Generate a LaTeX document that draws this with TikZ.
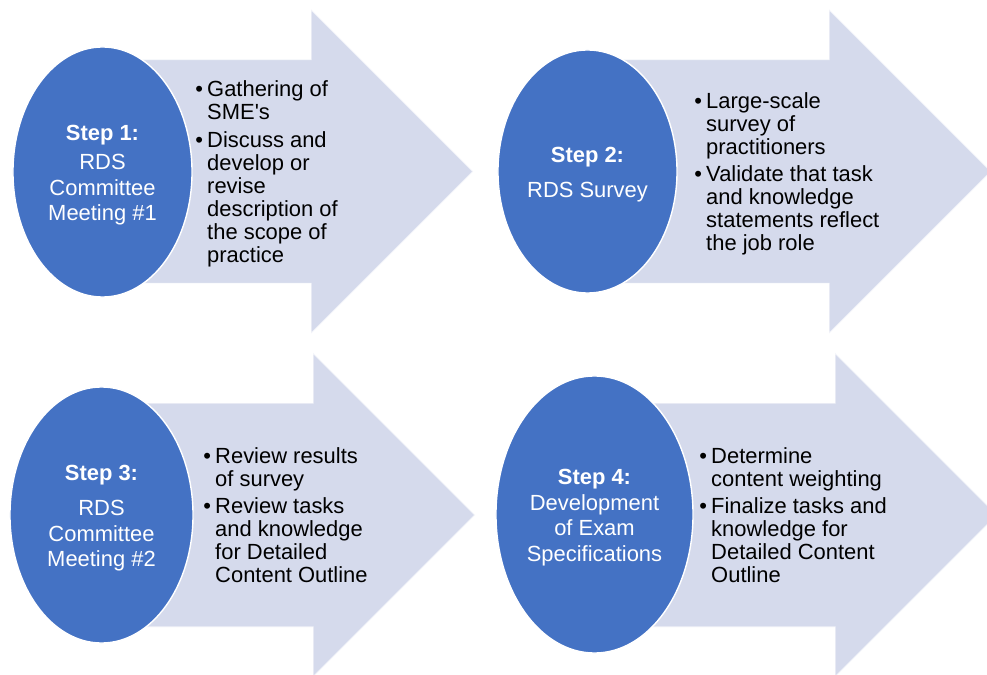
\documentclass[tikz,border=0pt]{standalone}
\usepackage{fontspec}
\setmainfont{Liberation Sans}
\usepackage{tikz}
\usetikzlibrary{shapes.geometric}
\definecolor{stageblue}{HTML}{4472C4}
\definecolor{stagefill}{HTML}{D5DAEC}
% bullet column + text column, lines after the first hang under the text
\newenvironment{bitems}{\begin{tabular}{@{}p{8.5pt}@{}l@{}}}{\end{tabular}}
\newcommand{\bul}{\textbullet}
\tikzset{
    stagearrow/.style={
        fill=stagefill, draw=white, draw opacity=0.7, line width=0.8pt
    },
    stageoval/.style={
        shape=ellipse, fill=stageblue, draw=white, line width=1pt,
        text=white, align=center, inner sep=0pt,
        font=\fontsize{15.6}{18.2}\selectfont
    },
    tasklist/.style={
        anchor=west, inner sep=0pt, yshift=-2.5pt,
        font=\fontsize{15.6}{16.4}\selectfont
    },
}

\begin{document}
\begin{tikzpicture}[x=0.025cm, y=-0.025cm]
    \useasboundingbox (0,0) rectangle (987,675);
    \clip (0,0) rectangle (987,675);
    % the four block arrows: body start / head start / middle line
    \foreach \bx/\hx/\cy in {102/311/171.5, 587/829/171.5, 101/313/515, 594/835/515} {
        \draw[stagearrow] (\bx,{\cy-112}) -- (\hx,{\cy-112}) -- (\hx,{\cy-162})
            -- ({\hx+162},\cy) -- (\hx,{\cy+162}) -- (\hx,{\cy+112})
            -- (\bx,{\cy+112}) -- cycle;
    }

    % steps
    \node[stageoval, minimum width=4.475cm, minimum height=6.25cm] (s1) at (102.5,172)
        {\rule{0pt}{15.5pt}\textbf{Step 1:}\\[2.5pt] RDS\\ Committee\\ Meeting \#1};
    \node[stageoval, minimum width=4.475cm, minimum height=6.075cm] (s2) at (587.5,171.5)
        {\rule{0pt}{15.5pt}\textbf{Step 2:}\\[6.6pt] RDS Survey};
    \node[stageoval, minimum width=4.575cm, minimum height=6.4cm] (s3) at (101.5,515)
        {\rule{0pt}{15.5pt}\textbf{Step 3:}\\[6.6pt] RDS\\ Committee\\ Meeting \#2};
    \node[stageoval, minimum width=4.925cm, minimum height=6.925cm] (s4) at (594.5,514.5)
        {\rule{0pt}{15.5pt}\textbf{Step 4:}\\ Development\\ of Exam\\ Specifications};

    % what happens in each step
    \node[tasklist] (t1) at (195,171.5) {\begin{bitems}
        \bul & Gathering of\\ & SME\textquotesingle s\\[3pt]
        \bul & Discuss and\\ & develop or\\ & revise\\ & description of\\ & the scope of\\ & practice
    \end{bitems}};
    \node[tasklist] (t2) at (694,171.5) {\begin{bitems}
        \bul & Large-scale\\ & survey of\\ & practitioners\\[3pt]
        \bul & Validate that task\\ & and knowledge\\ & statements reflect\\ & the job role
    \end{bitems}};
    \node[tasklist] (t3) at (203,515) {\begin{bitems}
        \bul & Review results\\ & of survey\\[3pt]
        \bul & Review tasks\\ & and knowledge\\ & for Detailed\\ & Content Outline
    \end{bitems}};
    \node[tasklist] (t4) at (699,515) {\begin{bitems}
        \bul & Determine\\ & content weighting\\[3pt]
        \bul & Finalize tasks and\\ & knowledge for\\ & Detailed Content\\ & Outline
    \end{bitems}};
\end{tikzpicture}
\end{document}
